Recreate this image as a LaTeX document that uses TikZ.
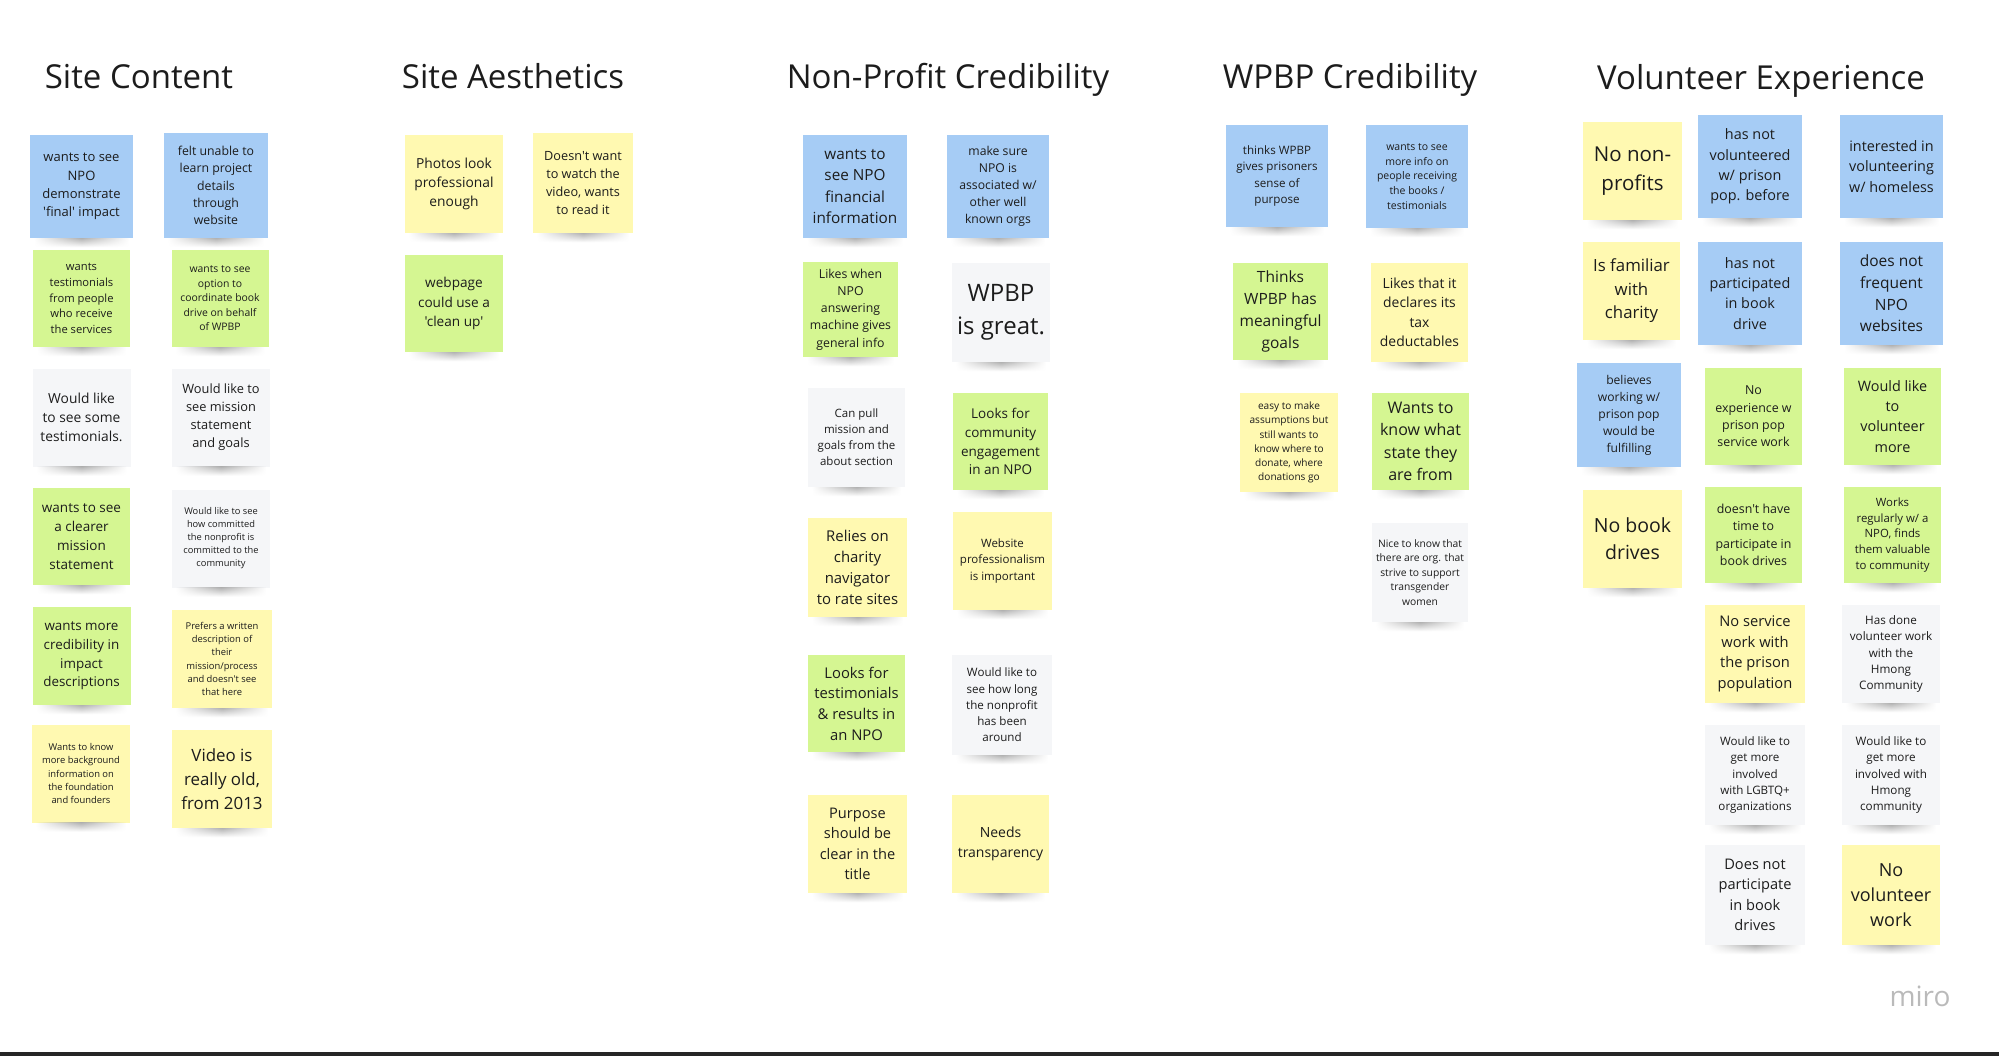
\documentclass[tikz,border=0pt]{standalone}
\usepackage{fontspec}
\setmainfont{Open Sans}[Ligatures=TeXOff]
\usepackage{tikz}
\usetikzlibrary{fadings}

\definecolor{noteyellow}{HTML}{FFF9B1}
\definecolor{notegreen}{HTML}{D5F692}
\definecolor{noteblue}{HTML}{A6CCF5}
\definecolor{notewhite}{HTML}{F5F6F8}
\definecolor{ink}{HTML}{1C1C1C}
\newcommand{\NoteFont}[1]{\fontsize{#1}{\fpeval{1.4*#1}}\selectfont}
\tikzfading[name=shadowends, left color=transparent!100, right color=transparent!100, middle color=transparent!0]
\tikzset{
	sticky/.style={rectangle, align=center, inner sep=1pt, text=ink, minimum size=98pt, font=\NoteFont{#1}},
	yellownote/.style={fill=noteyellow},
	greennote/.style={fill=notegreen},
	bluenote/.style={fill=noteblue},
	whitenote/.style={fill=notewhite},
	heading/.style={anchor=base, text=ink, font=\fontsize{33}{40}\selectfont},
}

\begin{document}
\begin{tikzpicture}[x=1pt, y=-1pt]
		\useasboundingbox (0,0) rectangle (1999,1056);

		% Titles
		\node[heading] (tsc) at (139,89) {Site Content};
		\node[heading] (tsa) at (513,89) {Site Aesthetics};
		\node[heading] (tnp) at (948,89) {Non-Profit Credibility};
		\node[heading] (twp) at (1350,89) {WPBP Credibility};
		\node[heading] (tve) at (1761,90) {Volunteer Experience};

		% Site Content
		\node[sticky=13, bluenote, minimum size=103pt] (sc1) at (81.5,186.5) {wants to see\\NPO\\demonstrate\\'final' impact};
		\node[sticky=12.3, bluenote, minimum width=104pt, minimum height=105pt] (sc2) at (216,185.5) {felt unable to\\learn project\\details\\through\\website};
		\node[sticky=11.2, greennote, minimum size=97pt] (sc3) at (81.5,298.5) {wants\\testimonials\\from people\\who receive\\the services};
		\node[sticky=10.4, greennote, minimum size=97pt] (sc4) at (220,298.5) {wants to see\\option to\\coordinate book\\drive on behalf\\of WPBP};
		\node[sticky=13.8, whitenote] (sc5) at (81.5,417.5) {Would like\\to see some\\testimonials.};
		\node[sticky=12.8, whitenote] (sc6) at (221,417.5) {Would like to\\see mission\\statement\\and goals};
		\node[sticky=13.5, greennote, minimum size=97pt] (sc7) at (81.5,536.5) {wants to see\\a clearer\\mission\\statement};
		\node[sticky=9.3, whitenote] (sc8) at (221,538.5) {Would like to see\\how committed\\the nonprofit is\\committed to the\\community};
		\node[sticky=13.4, greennote] (sc9) at (81.5,656) {wants more\\credibility in\\impact\\descriptions};
		\node[sticky=9.4, yellownote, minimum width=100pt] (sc10) at (222,659) {Prefers a written\\description of\\their\\mission/process\\and doesn't see\\that here};
		\node[sticky=9.4, yellownote] (sc11) at (81,773.5) {Wants to know\\more background\\information on\\the foundation\\and founders};
		\node[sticky=16.9, yellownote, minimum width=100pt] (sc12) at (222,779) {Video is\\really old,\\from 2013};

		% Site Aesthetics
		\node[sticky=13.8, yellownote] (sa1) at (454,184) {Photos look\\professional\\enough};
		\node[sticky=12.7, yellownote, minimum size=100pt] (sa2) at (583,183) {Doesn't want\\to watch the\\video, wants\\to read it};
		\node[sticky=13.6, greennote, minimum height=97pt] (sa3) at (454,303.5) {webpage\\could use a\\'clean up'};

		% Non-Profit Credibility
		\node[sticky=15.3, bluenote, minimum width=104pt, minimum height=103pt] (np1) at (855,186.5) {wants to\\see NPO\\financial\\information};
		\node[sticky=12.2, bluenote, minimum width=102pt, minimum height=103pt] (np2) at (998,186.5) {make sure\\NPO is\\associated w/\\other well\\known orgs};
		\node[sticky=12.3, greennote, minimum size=95pt] (np3) at (850.5,309.5) {Likes when\\NPO\\answering\\machine gives\\general info};
		\node[sticky=24, whitenote, minimum height=99pt] (np4) at (1001,312.5) {WPBP\\is great.};
		\node[sticky=11.5, whitenote, minimum width=97pt, minimum height=99pt] (np5) at (856.5,437.5) {Can pull\\mission and\\goals from the\\about section};
		\node[sticky=13.5, greennote, minimum width=95pt, minimum height=97pt] (np6) at (1000.5,441.5) {Looks for\\community\\engagement\\in an NPO};
		\node[sticky=14.9, yellownote, minimum size=99pt] (np7) at (857.5,567.5) {Relies on\\charity\\navigator\\to rate sites};
		\node[sticky=11.5, yellownote, minimum width=99pt] (np8) at (1002.5,561) {Website\\professionalism\\is important};
		\node[sticky=14.8, greennote, minimum size=97pt] (np9) at (856.5,703.5) {Looks for\\testimonials\\\& results in\\an NPO};
		\node[sticky=11.6, whitenote, minimum size=100pt] (np10) at (1002,705) {Would like to\\see how long\\the nonprofit\\has been\\around};
		\node[sticky=14.6, yellownote, minimum width=99pt] (np11) at (857.5,844) {Purpose\\should be\\clear in the\\title};
		\node[sticky=14, yellownote, minimum width=97pt] (np12) at (1000.5,844) {Needs\\transparency};

		% WPBP Credibility
		\node[sticky=11.6, bluenote, minimum size=102pt] (wp1) at (1277,176) {thinks WPBP\\gives prisoners\\sense of\\purpose};
		\node[sticky=10.5, bluenote, minimum width=102pt, minimum height=103pt] (wp2) at (1417,176.5) {wants to see\\more info on\\people receiving\\the books /\\testimonials};
		\node[sticky=15.5, greennote, minimum width=95pt, minimum height=97pt] (wp3) at (1280.5,311.5) {Thinks\\WPBP has\\meaningful\\goals};
		\node[sticky=13.9, yellownote, minimum width=97pt, minimum height=99pt] (wp4) at (1419.5,312.5) {Likes that it\\declares its\\tax\\deductables};
		\node[sticky=10.1, yellownote, minimum height=99pt] (wp5) at (1289,442.5) {easy to make\\assumptions but\\still wants to\\know where to\\donate, where\\donations go};
		\node[sticky=16, greennote, minimum size=97pt] (wp6) at (1420.5,441.5) {Wants to\\know what\\state they\\are from};
		\node[sticky=10.3, whitenote, minimum width=96pt, minimum height=99pt] (wp7) at (1420,572.5) {Nice to know that\\there are org. that\\strive to support\\transgender\\women};

		% Volunteer Experience
		\node[sticky=20.5, yellownote, minimum width=99pt] (ve1) at (1632.5,171) {No non-\\profits};
		\node[sticky=14.4, bluenote, minimum width=104pt, minimum height=103pt] (ve2) at (1750,166.5) {has not\\volunteered\\w/ prison\\pop. before};
		\node[sticky=14.4, bluenote, minimum size=103pt] (ve3) at (1891.5,166.5) {interested in\\volunteering\\w/ homeless};
		\node[sticky=16.8, yellownote, minimum width=97pt] (ve4) at (1631.5,291) {Is familiar\\with\\charity};
		\node[sticky=14.4, bluenote, minimum width=104pt, minimum height=103pt] (ve5) at (1750,293.5) {has not\\participated\\in book\\drive};
		\node[sticky=15.5, bluenote, minimum size=103pt] (ve6) at (1891.5,293.5) {does not\\frequent\\NPO\\websites};
		\node[sticky=12.1, bluenote, minimum size=104pt] (ve7) at (1629,415) {believes\\working w/\\prison pop\\would be\\fulfilling};
		\node[sticky=12.4, greennote, minimum size=97pt] (ve8) at (1753.5,416.5) {No\\experience w\\prison pop\\service work};
		\node[sticky=14.4, greennote, minimum size=97pt] (ve9) at (1892.5,416.5) {Would like\\to\\volunteer\\more};
		\node[sticky=19.5, yellownote, minimum width=99pt] (ve10) at (1632.5,539) {No book\\drives};
		\node[sticky=12.4, greennote, minimum width=97pt, minimum height=96pt] (ve11) at (1753.5,535) {doesn't have\\time to\\participate in\\book drives};
		\node[sticky=11.4, greennote, minimum width=97pt, minimum height=96pt] (ve12) at (1892.5,535) {Works\\regularly w/ a\\NPO, finds\\them valuable\\to community};
		\node[sticky=14.7, yellownote, minimum width=100pt] (ve13) at (1755,654) {No service\\work with\\the prison\\population};
		\node[sticky=11.7, whitenote] (ve14) at (1891,654) {Has done\\volunteer work\\with the\\Hmong\\Community};
		\node[sticky=11.6, whitenote, minimum size=100pt] (ve15) at (1755,775) {Would like to\\get more\\involved\\with LGBTQ+\\organizations};
		\node[sticky=11.7, whitenote, minimum height=100pt] (ve16) at (1891,775) {Would like to\\get more\\involved with\\Hmong\\community};
		\node[sticky=14.6, whitenote, minimum size=100pt] (ve17) at (1755,895) {Does not\\participate\\in book\\drives};
		\node[sticky=18, yellownote, minimum height=100pt] (ve18) at (1891,895) {No\\volunteer\\work};

		% Shadows under the notes
		\foreach \g/\k in {sc/12, sa/3, np/12, wp/7, ve/18}
			\foreach \i in {1,...,\k}
				\shade[top color=black!30, middle color=black!78, bottom color=white, path fading=shadowends]
					([xshift=4pt]\g\i.south west) rectangle ([xshift=-4pt, yshift=-9pt]\g\i.south east);

		% Watermark and bottom edge
		\node[anchor=base, text=black!27, font=\fontsize{28}{34}\selectfont] (miro) at (1920,1006) {miro};
		\fill[black!85] (0,1052) rectangle (1999,1056);
	\end{tikzpicture}
\end{document}
